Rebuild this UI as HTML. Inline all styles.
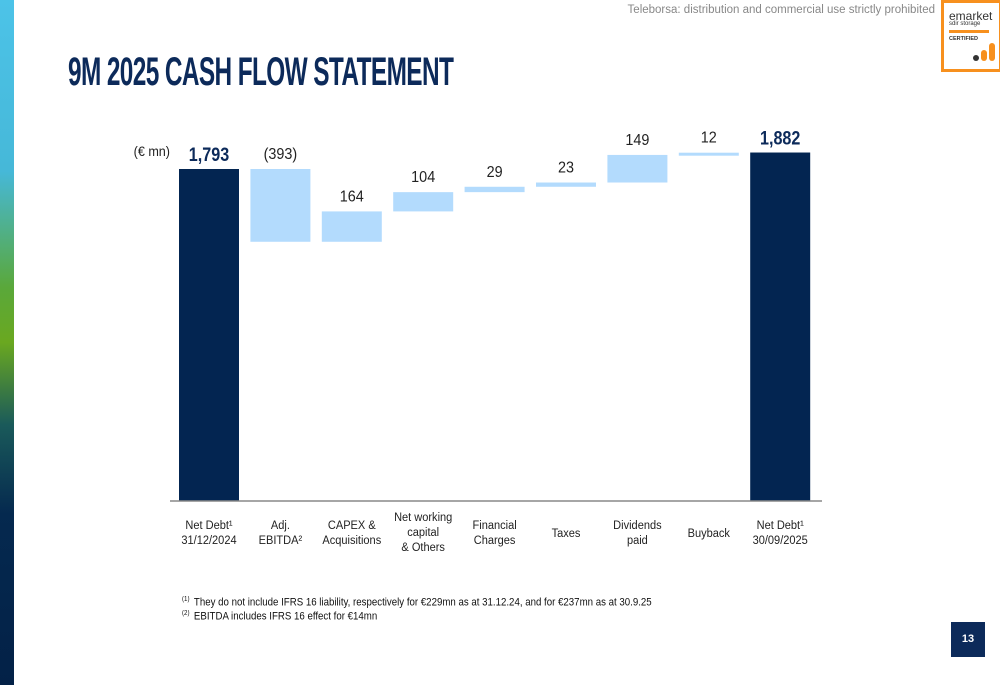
<!DOCTYPE html>
<html><head><meta charset="utf-8"><style>
body{margin:0;width:1000px;height:685px;position:relative;background:#fff;font-family:"Liberation Sans",sans-serif;overflow:hidden}
.strip{position:absolute;left:0;top:0;width:14px;height:685px;background:linear-gradient(#4cc3e8 0%,#46b8d8 25%,#5aa83a 42%,#6aa820 50%,#1a5a5a 62%,#05294f 75%,#032147 100%)}
.title{position:absolute;left:68px;top:50px;font-size:40px;font-weight:bold;color:#0c2a5a;transform:scaleX(0.61);transform-origin:left top;letter-spacing:-1px;white-space:nowrap;font-family:"Liberation Sans Narrow","Liberation Sans",sans-serif}
.wm{position:absolute;right:65px;top:4px;font-size:11.5px;color:#888}
.logo{position:absolute;left:941px;top:0;width:55px;height:66px;border:3px solid #f7901e;background:#fff}
.foot{position:absolute;left:182px;font-size:11px;color:#111;transform:scaleX(0.88);transform-origin:left top;white-space:nowrap}
.foot sup{font-size:7px;margin-right:5px}
.page{position:absolute;left:951px;top:622px;width:34px;height:35px;background:#0c2a5a;color:#fff;font-size:11px;font-weight:bold;text-align:center;line-height:35px}
</style></head><body>
<div class="strip"></div>
<div class="wm">Teleborsa: distribution and commercial use strictly prohibited</div>
<div class="logo">
<div style="font-size:12px;color:#333;margin:8px 0 0 5px;line-height:10px">emarket</div>
<div style="font-size:6px;color:#333;margin-left:5px">sdir storage</div>
<div style="width:40px;height:3px;background:#f7901e;margin:3px 0 0 5px"></div>
<div style="font-size:5.5px;font-weight:bold;color:#333;margin:3px 0 0 5px">CERTIFIED</div>
<div style="position:absolute;left:29px;top:52px;width:6px;height:6px;border-radius:3px;background:#333"></div>
<div style="position:absolute;left:37px;top:47px;width:6px;height:11px;border-radius:3px;background:#f7901e"></div>
<div style="position:absolute;left:45px;top:40px;width:6px;height:18px;border-radius:3px;background:#f7901e"></div>
</div>
<div class="title">9M 2025 CASH FLOW STATEMENT</div>
<svg id="chart" width="1000" height="685" style="position:absolute;left:0;top:0"></svg>
<div class="foot" style="top:596px"><sup>(1)</sup>They do not include IFRS 16 liability, respectively for €229mn as at 31.12.24, and for €237mn as at 30.9.25</div>
<div class="foot" style="top:610px"><sup>(2)</sup>EBITDA includes IFRS 16 effect for €14mn</div>
<div class="page">13</div>
<script>
const categories=[["Net Debt¹","31/12/2024"],["Adj.","EBITDA²"],["CAPEX &","Acquisitions"],["Net working","capital","& Others"],["Financial","Charges"],["Taxes"],["Dividends","paid"],["Buyback"],["Net Debt¹","30/09/2025"]];
const values=[1793,-393,164,104,29,23,149,12,1882];
const labels=["1,793","(393)","164","104","29","23","149","12","1,882"];
const types=["total","delta","delta","delta","delta","delta","delta","delta","total"];
const NS="http://www.w3.org/2000/svg";
const svg=document.getElementById('chart');
const base=501,scale=332/1793,x0=209,step=71.4,bw=60;
const y=v=>base-v*scale;
function mk(t,a){const e=document.createElementNS(NS,t);for(const k in a)e.setAttribute(k,a[k]);svg.appendChild(e);return e;}
function narrow(e,cx,s){e.setAttribute('transform',`translate(${cx},0) scale(${s},1) translate(${-cx},0)`);}
let t=mk('text',{x:170,y:156,'font-size':14,fill:'#222','text-anchor':'end'});t.textContent='(€ mn)';
narrow(t,170,0.9);


let run=0;
values.forEach((v,i)=>{
 const cx=x0+i*step;let top,bot,col;
 if(types[i]==='total'){top=y(v);bot=base;col='#032551';run=v;}
 else{const a=run,b=run+v;top=y(Math.max(a,b));bot=y(Math.min(a,b));col='#b3dbfd';run=b;}
 const r=mk('rect',{x:cx-bw/2,y:top,width:bw,height:Math.max(bot-top,3),fill:col});
 
 
 const tot=types[i]==='total';
 const l=mk('text',{x:cx,y:top-(tot?8:10),'text-anchor':'middle','font-size':tot?19:16,'font-weight':tot?'bold':'normal',fill:tot?'#0c2a5a':'#222'});
 narrow(l,cx,tot?0.85:0.9);
 l.textContent=labels[i];
 
 
 const lines=categories[i];const sy=537-(lines.length-1)*8;
 lines.forEach((s,j)=>{const c=mk('text',{x:cx,y:sy+j*15,'text-anchor':'middle','font-size':12,fill:'#222'});c.textContent=s;
 narrow(c,cx,0.92);
 
 });
});
const ax=mk('line',{x1:170,x2:822,y1:base,y2:base,stroke:'#888','stroke-width':1.5});


</script>
</body></html>
